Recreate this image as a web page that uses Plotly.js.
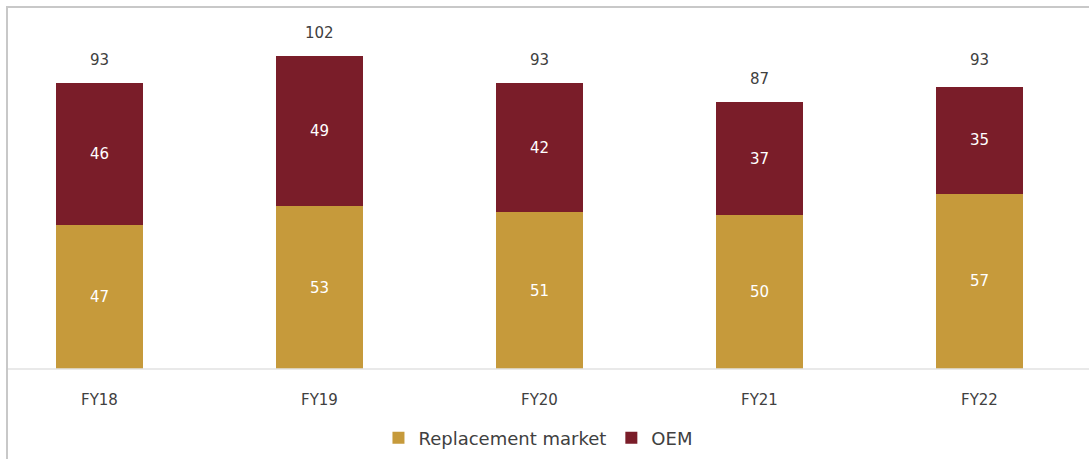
<!DOCTYPE html>
<html>
<head>
<meta charset="utf-8">
<script src="https://cdn.plot.ly/plotly-3.0.1.min.js"></script>
<style>html,body{margin:0;padding:0;background:#fff;} #chart{width:1089px;height:459px;}</style>
</head>
<body>
<div id="chart"></div>
<script>
const categories = ["FY18", "FY19", "FY20", "FY21", "FY22"];
const replacementMarket = [47, 53, 51, 50, 57];
const oem = [46, 49, 42, 37, 35];
const totals = [93, 102, 93, 87, 93];

const W = 1089, H = 459, T = 7, B = 90;
const plotH = H - T - B;
const px = v => v / W;
const py = yPix => (H - B - yPix) / plotH;

const FONT = "DejaVu Sans, Verdana, sans-serif";
const labelFont = {family: FONT, size: 15, color: "#ffffff"};

const traces = [
  {
    type: "bar", name: "Replacement market", x: categories, y: replacementMarket,
    marker: {color: "#C69A3B"}, width: 0.396,
    text: replacementMarket.map(String), textposition: "inside", insidetextanchor: "middle",
    textfont: labelFont, hoverinfo: "x+y+name"
  },
  {
    type: "bar", name: "OEM", x: categories, y: oem,
    marker: {color: "#7A1D29"}, width: 0.396,
    text: oem.map(String), textposition: "inside", insidetextanchor: "middle",
    textfont: labelFont, hoverinfo: "x+y+name"
  }
];

const annotations = categories.map((c, i) => ({
  x: c, y: totals[i], xref: "x", yref: "y", text: String(totals[i]),
  showarrow: false, yanchor: "bottom", yshift: 12,
  font: {family: FONT, size: 15, color: "#404040"}
}));

const layout = {
  width: W, height: H,
  margin: {l: 0, r: 0, t: T, b: B, pad: 0},
  paper_bgcolor: "#ffffff", plot_bgcolor: "#ffffff",
  barmode: "stack",
  bargap: 0.6,
  showlegend: true,
  legend: {
    orientation: "h", x: 0.494, xanchor: "center", y: py(438), yanchor: "middle",
    font: {family: FONT, size: 18, color: "#404040"},
    traceorder: "normal", itemwidth: 30
  },
  xaxis: {
    type: "category", range: [-0.452, 4.498],
    showgrid: false, zeroline: false, showline: false, ticks: "",
    tickfont: {family: FONT, size: 15, color: "#404040"},
    ticklabelstandoff: 20, fixedrange: true
  },
  yaxis: {
    range: [0, 117.9], visible: false, showgrid: false, zeroline: false, fixedrange: true
  },
  annotations: annotations,
  shapes: [
    {type: "line", xref: "paper", yref: "paper", x0: px(7), x1: 1, y0: 0, y1: 0,
     line: {color: "#e2e2e2", width: 1.5}, layer: "above"},
    {type: "line", xref: "paper", yref: "paper", x0: px(7), x1: px(7), y0: 1, y1: py(H + 5),
     line: {color: "#c8c8c8", width: 2}},
    {type: "line", xref: "paper", yref: "paper", x0: px(6), x1: 1.01, y0: 1, y1: 1,
     line: {color: "#c8c8c8", width: 2}}
  ]
};

Plotly.newPlot("chart", traces, layout, {displayModeBar: false, staticPlot: true});
</script>
</body>
</html>
